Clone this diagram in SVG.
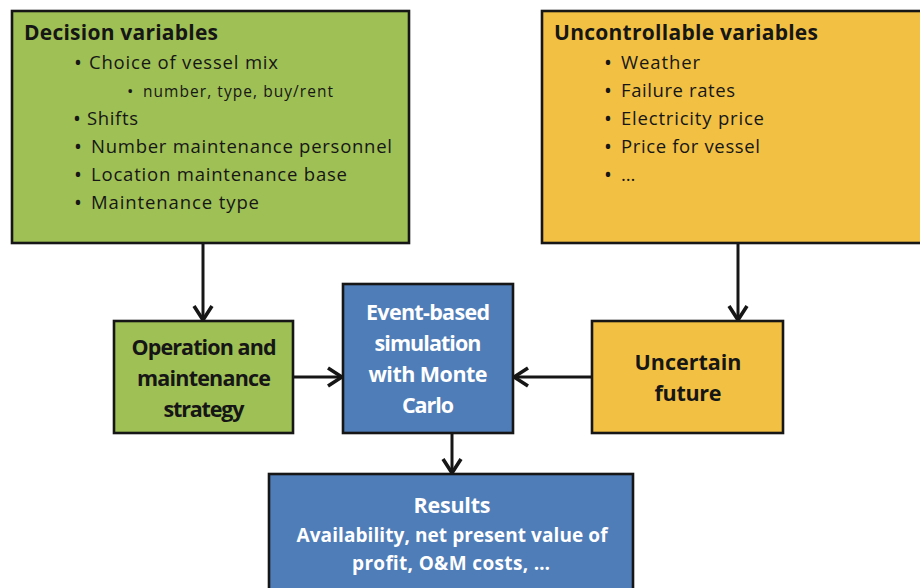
<svg xmlns="http://www.w3.org/2000/svg" width="920" height="588" viewBox="0 0 920 588">
  <defs>
    <style>
      .box { stroke: #161616; stroke-width: 2.6; }
      .green { fill: #9EC055; }
      .gold { fill: #F2C144; }
      .blue { fill: #4F7DB8; }
      text { font-family: "Open Sans", "Noto Sans", "Liberation Sans", sans-serif; fill: #161616; }
      .head { font-size: 21px; font-weight: bold; }
      .item { font-size: 18.5px; }
      .sub { font-size: 15.5px; }
      .dot { font-size: 21px; }
      .lbl { font-size: 21.5px; font-weight: bold; text-anchor: middle; }
      .white { fill: #ffffff; }
      .edge { stroke: #161616; stroke-width: 3; fill: none; }
    </style>
    <marker id="chev" viewBox="0 0 18 22" refX="16" refY="11" markerWidth="18" markerHeight="22" markerUnits="userSpaceOnUse" orient="auto">
      <path d="M2,2 L16,11 L2,20" fill="none" stroke="#161616" stroke-width="3.6" stroke-linejoin="miter"/>
    </marker>
  </defs>

  <rect width="920" height="588" fill="#ffffff"/>

  <!-- connectors -->
  <g id="connectors">
    <line class="edge" x1="203" y1="243" x2="203" y2="320" marker-end="url(#chev)"/>
    <line class="edge" x1="738" y1="243" x2="738" y2="320" marker-end="url(#chev)"/>
    <line class="edge" x1="293" y1="377" x2="342" y2="377" marker-end="url(#chev)"/>
    <line class="edge" x1="592" y1="377" x2="514" y2="377" marker-end="url(#chev)"/>
    <line class="edge" x1="452" y1="433" x2="452" y2="473" marker-end="url(#chev)"/>
  </g>

  <!-- decision variables -->
  <g id="decision-variables">
    <rect class="box green" x="12" y="11" width="397" height="232"/>
    <text class="head" x="24" y="40" textLength="194">Decision variables</text>
    <text class="dot" x="74" y="70">•</text>
    <text class="item" x="89" y="69" textLength="189">Choice of vessel mix</text>
    <text class="dot" x="127" y="97" style="font-size:17px">•</text>
    <text class="sub" x="143" y="97" textLength="190">number, type, buy/rent</text>
    <text class="dot" x="73" y="126">•</text>
    <text class="item" x="87" y="125" textLength="51">Shifts</text>
    <text class="dot" x="74" y="154">•</text>
    <text class="item" x="91" y="153" textLength="301">Number maintenance personnel</text>
    <text class="dot" x="74" y="182">•</text>
    <text class="item" x="91" y="181" textLength="256">Location maintenance base</text>
    <text class="dot" x="74" y="210">•</text>
    <text class="item" x="91" y="209" textLength="168">Maintenance type</text>
  </g>

  <!-- uncontrollable variables -->
  <g id="uncontrollable-variables">
    <rect class="box gold" x="542" y="11" width="400" height="232"/>
    <text class="head" x="554" y="40" textLength="264">Uncontrollable variables</text>
    <text class="dot" x="604" y="70">•</text>
    <text class="item" x="621" y="69" textLength="79">Weather</text>
    <text class="dot" x="604" y="98">•</text>
    <text class="item" x="621" y="97" textLength="114">Failure rates</text>
    <text class="dot" x="604" y="126">•</text>
    <text class="item" x="621" y="125" textLength="143">Electricity price</text>
    <text class="dot" x="604" y="154">•</text>
    <text class="item" x="621" y="153" textLength="139">Price for vessel</text>
    <text class="dot" x="604" y="182">•</text>
    <text class="item" x="621" y="181">…</text>
  </g>

  <!-- operation and maintenance strategy -->
  <g id="om-strategy">
    <rect class="box green" x="114" y="321" width="179" height="112"/>
    <text class="lbl" x="204" y="355" textLength="145">Operation and</text>
    <text class="lbl" x="204" y="386" textLength="134">maintenance</text>
    <text class="lbl" x="204" y="417" textLength="81">strategy</text>
  </g>

  <!-- simulation -->
  <g id="simulation">
    <rect class="box blue" x="343" y="284" width="170" height="149"/>
    <text class="lbl white" x="428" y="320" textLength="124">Event-based</text>
    <text class="lbl white" x="428" y="351" textLength="107">simulation</text>
    <text class="lbl white" x="428" y="382" textLength="119">with Monte</text>
    <text class="lbl white" x="428" y="413" textLength="52">Carlo</text>
  </g>

  <!-- uncertain future -->
  <g id="uncertain-future">
    <rect class="box gold" x="592" y="321" width="191" height="112"/>
    <text class="lbl" x="688" y="370" textLength="107">Uncertain</text>
    <text class="lbl" x="688" y="401" textLength="67">future</text>
  </g>

  <!-- results -->
  <g id="results">
    <rect class="box blue" x="269" y="474" width="364" height="130"/>
    <text class="lbl white" x="452" y="513" textLength="77">Results</text>
    <text class="lbl white" x="452" y="542" style="font-size:19px" textLength="311">Availability, net present value of</text>
    <text class="lbl white" x="451" y="570" style="font-size:19px" textLength="198">profit, O&amp;M costs, …</text>
  </g>
</svg>
